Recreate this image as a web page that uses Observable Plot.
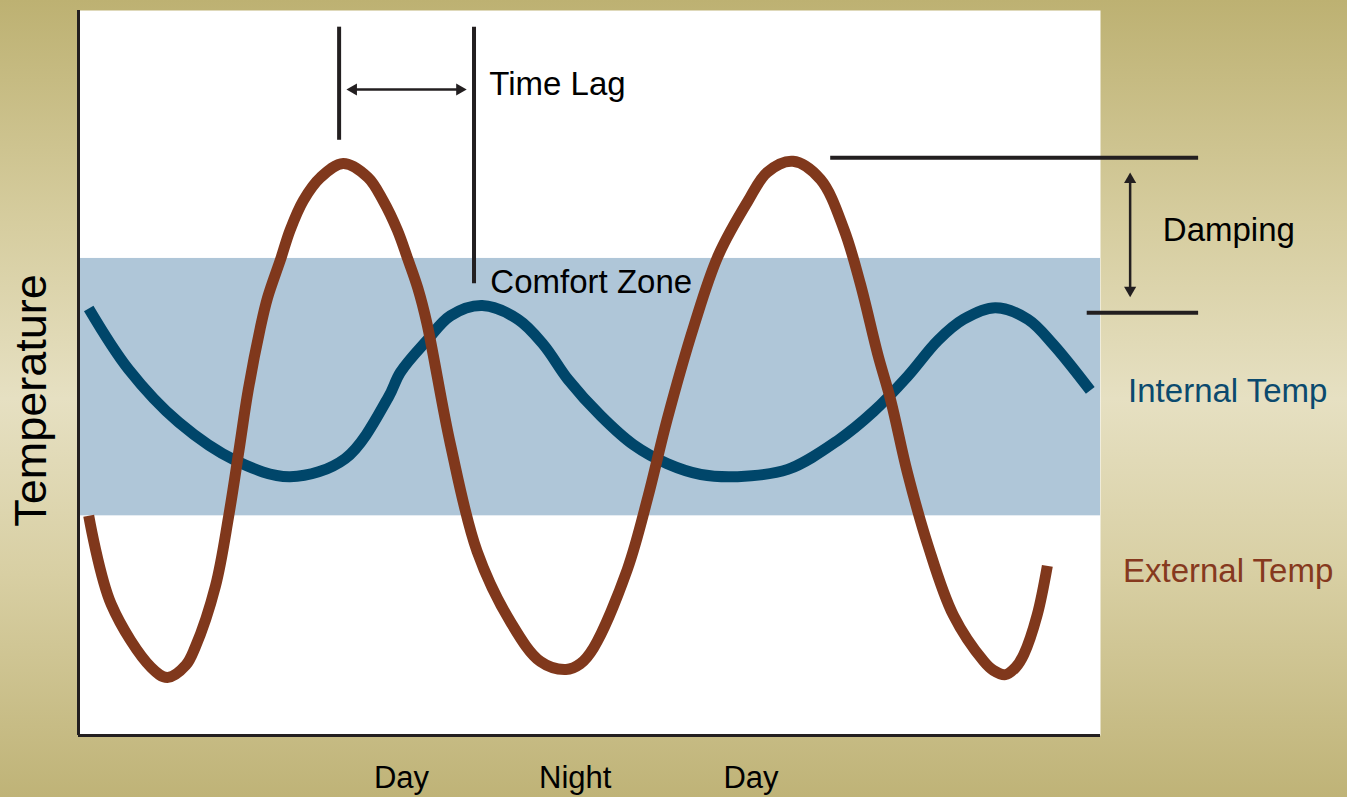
<!DOCTYPE html>
<html>
<head>
<meta charset="utf-8">
<script src="https://cdn.jsdelivr.net/npm/d3@7"></script>
<script src="https://cdn.jsdelivr.net/npm/@observablehq/plot@0.6"></script>
<style>
html, body { margin: 0; padding: 0; }
body {
  width: 1347px; height: 797px; overflow: hidden;
  background: linear-gradient(to bottom, #bdb172 0%, #d6cd9f 28%, #e6e0c2 50%, #d8cfa3 72%, #bfb377 100%);
  font-family: "Liberation Sans", Arial, Helvetica, sans-serif;
}
</style>
</head>
<body>
<div id="chart"></div>
<script>
// Time axis (0–100 = full width of the plot frame), temperature (0–100 = full height)
const externalTime = [1.0, 3.2, 7.1, 8.7, 10.5, 11.4, 13.4, 14.7, 15.7, 16.6, 17.8, 18.5, 19.8, 20.7, 22.0, 23.7, 25.9, 28.3, 29.8, 31.2, 32.2, 33.2, 34.1, 36.4, 39.0, 42.3, 45.2, 47.7, 49.1, 50.4, 53.7, 55.7, 57.6, 60.2, 62.6, 65.5, 67.4, 69.9, 72.6, 74.9, 76.5, 78.2, 79.5, 81.1, 83.1, 85.6, 88.6, 89.5, 90.7, 91.7, 92.5, 93.8, 94.8];
const externalTemp = [30.3, 18.1, 9.4, 8.0, 9.7, 12.1, 20.6, 30.3, 39.3, 47.6, 56.3, 60.4, 65.8, 69.7, 73.8, 77.0, 78.9, 77.0, 73.8, 69.7, 65.8, 61.7, 56.8, 40.1, 25.4, 15.6, 10.2, 9.1, 9.9, 12.1, 22.9, 32.8, 43.6, 56.4, 66.2, 73.7, 77.7, 79.2, 76.7, 69.8, 62.3, 52.6, 46.1, 36.3, 26.3, 16.6, 10.2, 9.0, 8.4, 9.4, 11.2, 16.6, 23.4];

const internalTime = [1.0, 4.9, 9.8, 15.4, 20.7, 26.1, 30.3, 31.5, 34.1, 36.4, 39.5, 43.0, 45.5, 47.9, 51.1, 54.3, 57.6, 60.9, 64.5, 69.4, 74.3, 77.8, 81.1, 84.1, 86.6, 89.7, 92.9, 95.4, 99.0];
const internalTemp = [58.9, 50.5, 43.2, 37.9, 35.7, 38.2, 46.6, 50.1, 54.5, 57.9, 59.3, 57.4, 53.9, 49.1, 44.1, 40.1, 37.5, 36.0, 35.7, 36.7, 40.7, 44.7, 49.5, 54.5, 57.4, 59.0, 57.4, 53.9, 47.6];

const comfortZone = [30.3, 65.8];           // lower, upper temperature
const periodLabels = ["Day", "Night", "Day"];
const periodTime = [31.6, 48.6, 65.8];
const seriesNames = ["Internal Temp", "External Temp"];

const external = externalTime.map((t, i) => ({t, v: externalTemp[i]}));
const internal = internalTime.map((t, i) => ({t, v: internalTemp[i]}));
const periods = periodLabels.map((label, i) => ({label, t: periodTime[i]}));

const FONT = '"Liberation Sans", Arial, Helvetica, sans-serif';
const INK = "#231f20";
const BROWN = "#80381c";
const BLUE = "#00466a";

const chart = Plot.plot({
  width: 1347,
  height: 797,
  marginLeft: 78,
  marginRight: 247,
  marginTop: 10,
  marginBottom: 62,
  style: {background: "transparent", fontFamily: FONT, overflow: "visible"},
  x: {domain: [0, 100], axis: null},
  y: {domain: [0, 100], axis: null},
  marks: [
    Plot.frame({fill: "white", stroke: "none"}),
    Plot.rect([comfortZone], {x1: 0, x2: 100, y1: d => d[0], y2: d => d[1], fill: "#afc6d8"}),
    // axes
    Plot.ruleX([0], {y1: 0, y2: 100, stroke: INK, strokeWidth: 3}),
    Plot.ruleY([0], {x1: 0, x2: 100, stroke: INK, strokeWidth: 3}),
    // series
    Plot.line(internal, {x: "t", y: "v", stroke: BLUE, strokeWidth: 11, curve: "catmull-rom", strokeLinecap: "butt"}),
    Plot.line(external, {x: "t", y: "v", stroke: BROWN, strokeWidth: 11, curve: "catmull-rom", strokeLinecap: "butt"}),
    // time lag annotation
    Plot.ruleX([25.5], {y1: 82.1, y2: 97.7, stroke: INK, strokeWidth: 4}),
    Plot.ruleX([38.7], {y1: 62.3, y2: 97.7, stroke: INK, strokeWidth: 4}),
    Plot.ruleY([89.1], {x1: 26.9, x2: 37.3, stroke: INK, strokeWidth: 2.5}),
    Plot.dot([{t: 26.9, r: -90}, {t: 37.3, r: 90}], {x: "t", y: 89.1, symbol: "triangle", r: 4.5, fill: INK, stroke: "none", rotate: "r"}),
    Plot.text(["Time Lag"], {x: 40.2, y: 89.8, text: d => d, textAnchor: "start", fontSize: 33, fill: "#000"}),
    Plot.text(["Comfort Zone"], {x: 40.3, y: 62.5, text: d => d, textAnchor: "start", fontSize: 33, fill: "#000"}),
    // damping annotation
    Plot.ruleY([79.7], {x1: 73.6, x2: 109.6, stroke: INK, strokeWidth: 4}),
    Plot.ruleY([58.3], {x1: 98.7, x2: 109.6, stroke: INK, strokeWidth: 4}),
    Plot.ruleX([102.9], {y1: 61.4, y2: 76.7, stroke: INK, strokeWidth: 2.5}),
    Plot.dot([{v: 76.7, r: 0}, {v: 61.4, r: 180}], {x: 102.9, y: "v", symbol: "triangle", r: 4.5, fill: INK, stroke: "none", rotate: "r"}),
    Plot.text(["Damping"], {x: 106.1, y: 69.7, text: d => d, textAnchor: "start", fontSize: 33, fill: "#000"}),
    // series labels
    Plot.text([seriesNames[0]], {x: 102.7, y: 47.4, text: d => d, textAnchor: "start", fontSize: 33, fill: "#0b4a6e"}),
    Plot.text([seriesNames[1]], {x: 102.2, y: 22.6, text: d => d, textAnchor: "start", fontSize: 33, fill: "#86391e"}),
    // period labels
    Plot.text(periods, {x: "t", y: -5.9, text: "label", fontSize: 31, fill: "#000"}),
    // y label
    Plot.text(["Temperature"], {x: -4.6, y: 46.2, text: d => d, rotate: -90, fontSize: 45, fill: "#000"})
  ]
});
document.getElementById("chart").appendChild(chart);
</script>
</body>
</html>
